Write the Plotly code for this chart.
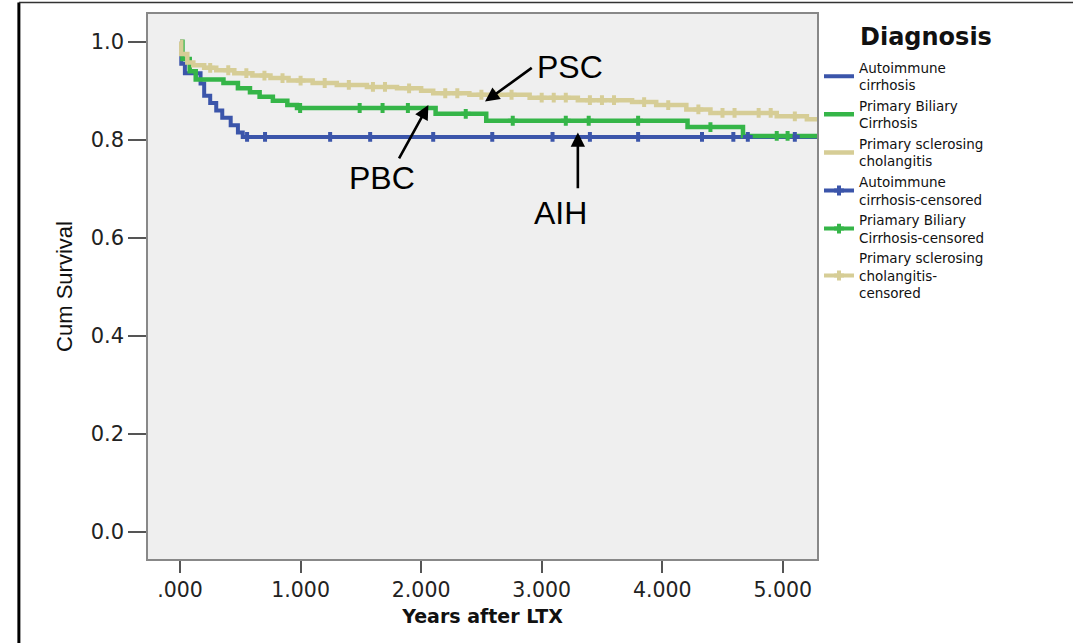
import numpy as np
import plotly.graph_objects as go

# ---------------- data ----------------
aih_t = [0, 0.01, 0.04, 0.17, 0.20, 0.25, 0.30, 0.35, 0.42, 0.48, 0.52, 5.30]
aih_s = [1.0, 0.955, 0.936, 0.915, 0.89, 0.875, 0.86, 0.845, 0.83, 0.815, 0.806, 0.806]
aih_cens = [0.556, 0.705, 1.245, 1.577, 2.10, 2.59, 3.09, 3.40, 3.80, 4.33, 4.59, 4.71, 5.10]

pbc_t = [0, 0.02, 0.08, 0.13, 0.36, 0.48, 0.58, 0.66, 0.77, 0.89, 0.97, 2.12, 2.54, 4.21, 4.67, 5.30]
pbc_s = [1.0, 0.965, 0.94, 0.923, 0.916, 0.905, 0.897, 0.888, 0.88, 0.871, 0.865, 0.853, 0.839, 0.826, 0.808, 0.808]
pbc_cens = [0.996, 1.49, 1.68, 1.89, 2.37, 2.76, 3.20, 3.39, 3.80, 4.40, 4.95, 5.04]

psc_t = [0, 0.01, 0.06, 0.11, 0.20, 0.30, 0.45, 0.60, 0.75, 0.90, 1.10, 1.30, 1.55, 1.80,
         2.00, 2.10, 2.40, 2.90, 3.30, 3.75, 3.95, 4.20, 4.40, 4.95, 5.20, 5.30]
psc_s = [1.0, 0.975, 0.958, 0.952, 0.947, 0.942, 0.936, 0.931, 0.926, 0.921, 0.916, 0.912, 0.908, 0.905,
         0.90, 0.895, 0.892, 0.886, 0.881, 0.877, 0.871, 0.862, 0.855, 0.848, 0.842, 0.842]
psc_cens = [0.25, 0.40, 0.55, 0.70, 0.85, 1.00, 1.20, 1.40, 1.60, 1.70, 1.90, 2.20, 2.30, 2.50,
            2.60, 2.75, 3.00, 3.10, 3.20, 3.40, 3.50, 3.60, 3.85, 4.05, 4.30, 4.50, 4.60, 4.80, 4.90, 5.10]

x_ticks = [0, 1, 2, 3, 4, 5]
x_tick_text = [".000", "1.000", "2.000", "3.000", "4.000", "5.000"]
y_ticks = [0.0, 0.2, 0.4, 0.6, 0.8, 1.0]

names = ["Autoimmune<br>cirrhosis", "Primary Biliary<br>Cirrhosis", "Primary sclerosing<br>cholangitis"]
cens_names = ["Autoimmune<br>cirrhosis-censored", "Priamary Biliary<br>Cirrhosis-censored",
              "Primary sclerosing<br>cholangitis-<br>censored"]
colors = ["#3b55aa", "#35b548", "#d6cd96"]


def step_val(t, s, q):
    t = np.asarray(t)
    s = np.asarray(s)
    idx = np.searchsorted(t, np.asarray(q), side="right") - 1
    return s[idx]


def with_gaps(vals):
    out = []
    for v in vals:
        out.extend([v, None])
    return out


fig = go.Figure()
series = [(aih_t, aih_s), (pbc_t, pbc_s), (psc_t, psc_s)]
for (t, s), nm, c, w in zip(series, names, colors, [4, 4.5, 4.5]):
    fig.add_trace(go.Scatter(x=t, y=s, mode="lines", line=dict(color=c, width=w, shape="hv"),
                             name=nm))
for (t, s), cens, nm, c in zip(series, [aih_cens, pbc_cens, psc_cens], cens_names, colors):
    ys = [float(v) for v in step_val(t, s, cens)]
    fig.add_trace(go.Scatter(x=with_gaps(cens), y=with_gaps(ys), mode="lines+markers",
                             connectgaps=False, line=dict(color=c, width=4),
                             marker=dict(symbol="cross-thin", size=7, color=c,
                                         line=dict(color=c, width=4)),
                             name=nm))

FONT = "DejaVu Sans"
ann = []
# labels
for txt, x, y in [("PSC", 3.237, 0.948), ("PBC", 1.672, 0.722), ("AIH", 3.154, 0.651)]:
    ann.append(dict(x=x, y=y, xref="x", yref="y", text=txt, showarrow=False,
                    font=dict(family="Liberation Sans, Arial", size=32, color="black")))
# arrows
for hx, hy, tx, ty in [(2.53, 0.878, 2.93, 0.949), (2.06, 0.871, 1.81, 0.759), (3.30, 0.815, 3.30, 0.698)]:
    ann.append(dict(x=hx, y=hy, ax=tx, ay=ty, xref="x", yref="y", axref="x", ayref="y",
                    text="", showarrow=True, arrowhead=2, arrowsize=1.1, arrowwidth=2.6,
                    arrowcolor="black", standoff=0))
# legend title
ann.append(dict(x=1.062, y=0.958, xref="paper", yref="paper", xanchor="left", yanchor="middle",
                text="<b>Diagnosis</b>", showarrow=False,
                font=dict(family=FONT, size=24, color="#111")))

shapes = [
    dict(type="line", xref="paper", yref="paper", x0=-0.193, x1=-0.193, y0=-0.2, y1=1.021,
         line=dict(color="black", width=3)),
    dict(type="line", xref="paper", yref="paper", x0=-0.193, x1=1.5, y0=1.021, y1=1.021,
         line=dict(color="#333", width=1.5)),
]

fig.update_layout(
    width=1073, height=643,
    margin=dict(l=148, r=256, t=14, b=84),
    paper_bgcolor="white", plot_bgcolor="#efefef",
    annotations=ann, shapes=shapes,
    showlegend=True,
    legend=dict(x=1.003, y=0.93, xanchor="left", yanchor="top",
                font=dict(family=FONT, size=13.5, color="#111"),
                bgcolor="rgba(0,0,0,0)", tracegroupgap=0, itemwidth=30),
    xaxis=dict(range=[-0.266, 5.284], tickvals=x_ticks, ticktext=x_tick_text,
               ticks="outside", ticklen=12, tickwidth=1.5, tickcolor="#555",
               showline=True, linecolor="#888", linewidth=1.5, mirror=True,
               showgrid=False, zeroline=False,
               tickfont=dict(family=FONT, size=20.5, color="#222"),
               title=dict(text="<b>Years after LTX</b>", font=dict(family=FONT, size=19, color="#111"),
                          standoff=8)),
    yaxis=dict(range=[-0.055, 1.0567], tickvals=y_ticks, tickformat=".1f",
               ticks="outside", ticklen=18, tickwidth=1.5, tickcolor="#555",
               showline=True, linecolor="#888", linewidth=1.5, mirror=True,
               showgrid=False, zeroline=False,
               tickfont=dict(family=FONT, size=21, color="#222"),
               title=dict(text="Cum Survival", font=dict(family="Liberation Sans Narrow, Liberation Sans", size=22, color="#111"),
                          standoff=12)),
)

fig.write_html("out.html")
